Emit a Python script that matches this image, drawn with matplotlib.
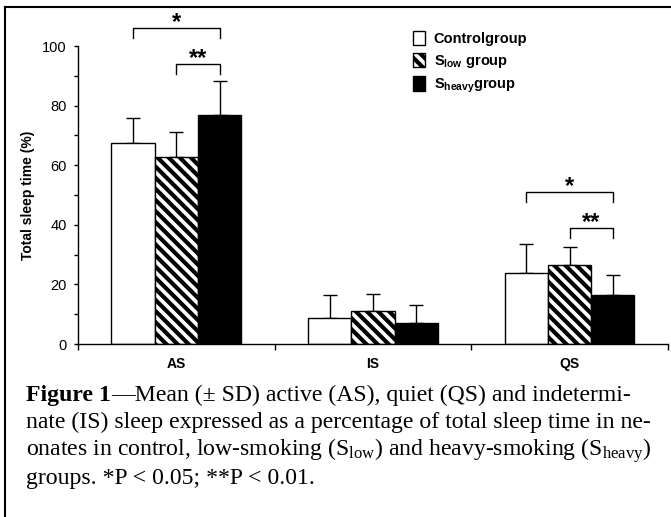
import matplotlib
matplotlib.use("Agg")
import matplotlib.pyplot as plt
import numpy as np
from matplotlib.lines import Line2D
from matplotlib.patches import Patch

categories = ["AS", "IS", "QS"]
group_labels = ["Controlgroup", "S$_{low}$ group", "S$_{heavy}$group"]
control_mean = [67.5, 8.8, 23.9]
control_sd = [8.5, 7.7, 9.8]
slow_mean = [62.9, 11.2, 26.6]
slow_sd = [8.1, 5.7, 6.0]
sheavy_mean = [77.0, 6.9, 16.5]
sheavy_sd = [11.3, 6.2, 6.7]
y_ticks = [0, 20, 40, 60, 80, 100]

plt.rcParams["font.family"] = ["Liberation Sans", "DejaVu Sans"]
plt.rcParams["mathtext.default"] = "regular"
plt.rcParams["hatch.linewidth"] = 3.0
plt.rcParams["hatch.color"] = "black"

fig = plt.figure(figsize=(6.71, 5.17), dpi=100)
ax = fig.add_axes([78 / 671, 0.3346, 0.879, 0.5764])

x = np.arange(len(categories))
width = 0.22
series = [
    (control_mean, control_sd, "white", ""),
    (slow_mean, slow_sd, "white", "\\\\\\"),
    (sheavy_mean, sheavy_sd, "black", ""),
]
for i, (mean, sd, face, hatch) in enumerate(series):
    pos = x + (i - 1) * width
    ax.bar(pos, mean, width, color=face, edgecolor="black", linewidth=1.0,
           hatch=hatch, zorder=2)
    ax.errorbar(pos, mean, yerr=[np.zeros(len(sd)), sd], fmt="none",
                ecolor="black", elinewidth=1.0, capsize=5, capthick=1.0, zorder=1)

# significance brackets: (category, left group, right group, height, label)
brackets = [
    (0, 0, 2, 106, "*"),
    (0, 1, 2, 94, "**"),
    (2, 0, 2, 51, "*"),
    (2, 1, 2, 39, "**"),
]
for cat, g1, g2, h, label in brackets:
    x1 = cat + (g1 - 1) * width
    x2 = cat + (g2 - 1) * width
    ax.plot([x1, x1, x2, x2], [h - 3.3, h, h, h - 3.3], color="black",
            linewidth=1.0, clip_on=False)
    ax.text((x1 + x2) / 2, h - 0.4, label, ha="center", va="baseline",
            fontsize=17, fontweight="bold", clip_on=False)

ax.set_xlim(-0.5, 2.5)
ax.set_ylim(0, 100)
ax.set_yticks(y_ticks)
ax.set_yticks(np.arange(10, 100, 20), minor=True)
ax.set_xticks([-0.5, 0.5, 1.5, 2.5])
ax.set_xticklabels([])
ax.set_xticks(x, minor=True)
ax.set_xticklabels(categories, minor=True, fontweight="bold", fontsize=10)
ax.tick_params(axis="x", which="minor", length=0, pad=9)
ax.tick_params(axis="x", which="major", length=4, width=1)
ax.tick_params(axis="y", which="both", length=3, width=1, labelsize=10.5, pad=5)
for side in ["top", "right"]:
    ax.spines[side].set_visible(False)
for side in ["left", "bottom"]:
    ax.spines[side].set_linewidth(1.0)
ax.set_ylabel("Total sleep time (%)", fontweight="bold", fontsize=10, labelpad=5)

handles = [
    Patch(facecolor="white", edgecolor="black", linewidth=1.0),
    Patch(facecolor="white", edgecolor="black", linewidth=1.0, hatch="\\\\\\"),
    Patch(facecolor="black", edgecolor="black", linewidth=1.0),
]
leg = ax.legend(handles, group_labels, loc="upper left", bbox_to_anchor=(0.545, 1.095),
                frameon=False, prop={"weight": "bold", "size": 10.5},
                handlelength=0.85, handleheight=1.15, handletextpad=0.6, labelspacing=0.45)

# frame lines (left and top)
fig.add_artist(Line2D([0.0075, 0.0075], [0, 0.987], transform=fig.transFigure,
                      color="black", linewidth=1.5))
fig.add_artist(Line2D([0.0075, 1.0], [0.987, 0.987], transform=fig.transFigure,
                      color="black", linewidth=1.5))

# caption
cap_font = {"family": ["Liberation Serif", "DejaVu Serif"], "size": 17.1}
lines = [
    "\u2014Mean (\u00b1 SD) active (AS), quiet (QS) and indetermi-",
    "nate (IS) sleep expressed as a percentage of total sleep time in ne-",
    "onates in control, low-smoking (S$_{low}$) and heavy-smoking (S$_{heavy}$)",
    "groups. *P < 0.05; **P < 0.01.",
]
y0 = 1 - 395 / 517
dy = 27.8 / 517
t1 = fig.text(26 / 671, y0, "Figure 1", fontdict=cap_font, fontweight="bold",
              va="center", ha="left")
fig.canvas.draw()
ext = t1.get_window_extent()
fig.text(ext.x1 / fig.bbox.width, y0, lines[0], fontdict=cap_font, va="center", ha="left")
for k, line in enumerate(lines[1:], start=1):
    fig.text(26 / 671, y0 - k * dy, line, fontdict=cap_font, va="center", ha="left")

fig.savefig("out.png", dpi=100)
